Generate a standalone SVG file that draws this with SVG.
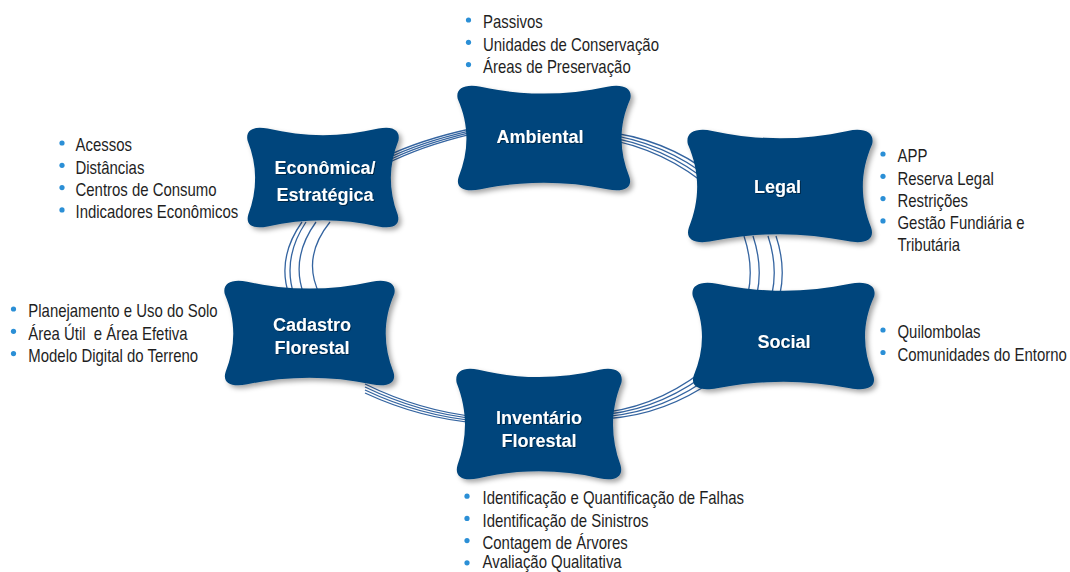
<svg xmlns="http://www.w3.org/2000/svg" xmlns:xlink="http://www.w3.org/1999/xlink" width="1070" height="572" viewBox="0 0 1070 572">
  <defs>
    <style>
      .node { fill: #03457b; }
      .label { font-family: "Liberation Sans", Arial, sans-serif; font-weight: bold; font-size: 18px; fill: #ffffff; text-anchor: middle; }
      .item { font-family: "Liberation Sans", Arial, sans-serif; font-size: 18px; fill: #1f1f1f; }
      .dot { fill: #2b8fd6; }
      .wire { fill: none; stroke: #3464a0; stroke-width: 1.3; }
    </style>
    <!-- cushion outline: rounded corner lobes, all four sides bowed inward -->
    <symbol id="pillow" viewBox="0 0 100 100" preserveAspectRatio="none" overflow="visible">
      <path d="M14,2.5 C38,11 62,11 86,2.5 C95,-0.5 100.5,4 99,14 C92.5,38 92.5,62 98.5,86 C100.5,96 95.5,100.5 86,97.5 C62,89.5 38,89.5 14,97.5 C4.5,100.5 -0.5,96 1.5,86 C7.5,62 7.5,38 1,14 C-0.5,4 5,-0.5 14,2.5 Z"/>
    </symbol>
    <filter id="shadow" x="-10%" y="-10%" width="125%" height="130%">
      <feDropShadow dx="3" dy="3" stdDeviation="2.5" flood-color="#000000" flood-opacity="0.35"/>
    </filter>
    <filter id="tshadow" x="-10%" y="-20%" width="120%" height="150%">
      <feDropShadow dx="1" dy="1" stdDeviation="0.6" flood-color="#000000" flood-opacity="0.45"/>
    </filter>
  </defs>

  <rect width="1070" height="572" fill="#ffffff"/>

  <!-- bundles of thin curves linking neighbouring nodes around the ring -->
  <g id="connectors">
    <g id="c-economica-ambiental">
      <path class="wire" d="M385,157 Q420,140 470,129"/>
      <path class="wire" d="M385,159.5 Q420,142.2 470,130.8"/>
      <path class="wire" d="M385,162 Q420,144.4 470,132.6"/>
      <path class="wire" d="M385,164.5 Q420,146.6 470,134.4"/>
    </g>
    <g id="c-ambiental-legal">
      <path class="wire" d="M600,131 Q665,138 712,175"/>
      <path class="wire" d="M600,133.3 Q665,141.5 712,180"/>
      <path class="wire" d="M600,135.6 Q665,145 712,185"/>
      <path class="wire" d="M600,137.9 Q665,148.5 712,190"/>
    </g>
    <g id="c-legal-social">
      <path class="wire" d="M744,236 Q754,266 748,294"/>
      <path class="wire" d="M753,236 Q763,266 757,294"/>
      <path class="wire" d="M768,236 Q778,266 772,294"/>
      <path class="wire" d="M776,236 Q786,266 780,294"/>
    </g>
    <g id="c-economica-cadastro">
      <path class="wire" d="M302,222 Q276.5,258 289,295"/>
      <path class="wire" d="M306,222 Q282,258 294,295"/>
      <path class="wire" d="M316,222 Q290,258 304,295"/>
      <path class="wire" d="M330,222 Q301,258 320,295"/>
    </g>
    <g id="c-cadastro-inventario">
      <path class="wire" d="M365,384 Q420,411 478,417"/>
      <path class="wire" d="M365,387 Q420,413.5 478,419"/>
      <path class="wire" d="M365,390 Q420,416 478,421"/>
      <path class="wire" d="M365,393 Q420,418.5 478,423"/>
    </g>
    <g id="c-inventario-social">
      <path class="wire" d="M608,412 Q665,404 714,362"/>
      <path class="wire" d="M608,414.2 Q665,407.5 714,368"/>
      <path class="wire" d="M608,416.4 Q665,411 714,374"/>
      <path class="wire" d="M608,418.6 Q665,414.5 714,380"/>
    </g>
  </g>

  <g id="node-ambiental">
    <use xlink:href="#pillow" href="#pillow" class="node" x="456" y="84" width="176" height="108" filter="url(#shadow)"/>
    <text class="label" x="540" y="143" filter="url(#tshadow)">Ambiental</text>
    <circle class="dot" cx="468.5" cy="20" r="2.6"/>
    <circle class="dot" cx="468.5" cy="42.3" r="2.6"/>
    <circle class="dot" cx="468.5" cy="64.6" r="2.6"/>
    <g transform="matrix(0.83 0 0 1 483 0)">
      <text class="item" x="0" y="28.3">Passivos</text>
      <text class="item" x="0" y="50.6">Unidades de Conservação</text>
      <text class="item" x="0" y="72.9">Áreas de Preservação</text>
    </g>
  </g>

  <g id="node-economica">
    <use xlink:href="#pillow" href="#pillow" class="node" x="246" y="126" width="154" height="103" filter="url(#shadow)"/>
    <text class="label" x="325" y="174" filter="url(#tshadow)">Econômica/</text>
    <text class="label" x="325" y="200.5" filter="url(#tshadow)">Estratégica</text>
    <circle class="dot" cx="62" cy="143" r="2.6"/>
    <circle class="dot" cx="62" cy="165.3" r="2.6"/>
    <circle class="dot" cx="62" cy="187.6" r="2.6"/>
    <circle class="dot" cx="62" cy="209.9" r="2.6"/>
    <g transform="matrix(0.83 0 0 1 75.5 0)">
      <text class="item" x="0" y="151.3">Acessos</text>
      <text class="item" x="0" y="173.6">Distâncias</text>
      <text class="item" x="0" y="195.9">Centros de Consumo</text>
      <text class="item" x="0" y="218.2">Indicadores Econômicos</text>
    </g>
  </g>

  <g id="node-legal">
    <use xlink:href="#pillow" href="#pillow" class="node" x="686" y="128" width="188" height="116" filter="url(#shadow)"/>
    <text class="label" x="777.5" y="193" filter="url(#tshadow)">Legal</text>
    <circle class="dot" cx="883" cy="154" r="2.6"/>
    <circle class="dot" cx="883" cy="176.3" r="2.6"/>
    <circle class="dot" cx="883" cy="198.6" r="2.6"/>
    <circle class="dot" cx="883" cy="220.9" r="2.6"/>
    <g transform="matrix(0.83 0 0 1 897.5 0)">
      <text class="item" x="0" y="162.3">APP</text>
      <text class="item" x="0" y="184.6">Reserva Legal</text>
      <text class="item" x="0" y="206.9">Restrições</text>
      <text class="item" x="0" y="229.2">Gestão Fundiária e</text>
      <text class="item" x="0" y="251.5">Tributária</text>
    </g>
  </g>

  <g id="node-cadastro">
    <use xlink:href="#pillow" href="#pillow" class="node" x="223" y="279" width="173" height="108" filter="url(#shadow)"/>
    <text class="label" x="312" y="331" filter="url(#tshadow)">Cadastro</text>
    <text class="label" x="312" y="354" filter="url(#tshadow)">Florestal</text>
    <circle class="dot" cx="13.5" cy="309" r="2.6"/>
    <circle class="dot" cx="13.5" cy="331.3" r="2.6"/>
    <circle class="dot" cx="13.5" cy="353.6" r="2.6"/>
    <g transform="matrix(0.83 0 0 1 28.3 0)">
      <text class="item" x="0" y="317.3">Planejamento e Uso do Solo</text>
      <text class="item" x="0" y="339.6" style="white-space:pre">Área Útil  e Área Efetiva</text>
      <text class="item" x="0" y="361.9">Modelo Digital do Terreno</text>
    </g>
  </g>

  <g id="node-social">
    <use xlink:href="#pillow" href="#pillow" class="node" x="691" y="281" width="185" height="110" filter="url(#shadow)"/>
    <text class="label" x="784" y="348" filter="url(#tshadow)">Social</text>
    <circle class="dot" cx="883" cy="330" r="2.6"/>
    <circle class="dot" cx="883" cy="352.5" r="2.6"/>
    <g transform="matrix(0.83 0 0 1 897.5 0)">
      <text class="item" x="0" y="338.3">Quilombolas</text>
      <text class="item" x="0" y="360.8">Comunidades do Entorno</text>
    </g>
  </g>

  <g id="node-inventario">
    <use xlink:href="#pillow" href="#pillow" class="node" x="455" y="367" width="168" height="114" filter="url(#shadow)"/>
    <text class="label" x="539" y="424" filter="url(#tshadow)">Inventário</text>
    <text class="label" x="539" y="447" filter="url(#tshadow)">Florestal</text>
    <circle class="dot" cx="467" cy="496.2" r="2.6"/>
    <circle class="dot" cx="467" cy="518.4" r="2.6"/>
    <circle class="dot" cx="467" cy="540.6" r="2.6"/>
    <circle class="dot" cx="467" cy="562.8" r="2.6"/>
    <g transform="matrix(0.83 0 0 1 482.5 0)">
      <text class="item" x="0" y="504.4">Identificação e Quantificação de Falhas</text>
      <text class="item" x="0" y="526.6">Identificação de Sinistros</text>
      <text class="item" x="0" y="548.8">Contagem de Árvores</text>
      <text class="item" x="0" y="568.5">Avaliação Qualitativa</text>
    </g>
  </g>
</svg>
